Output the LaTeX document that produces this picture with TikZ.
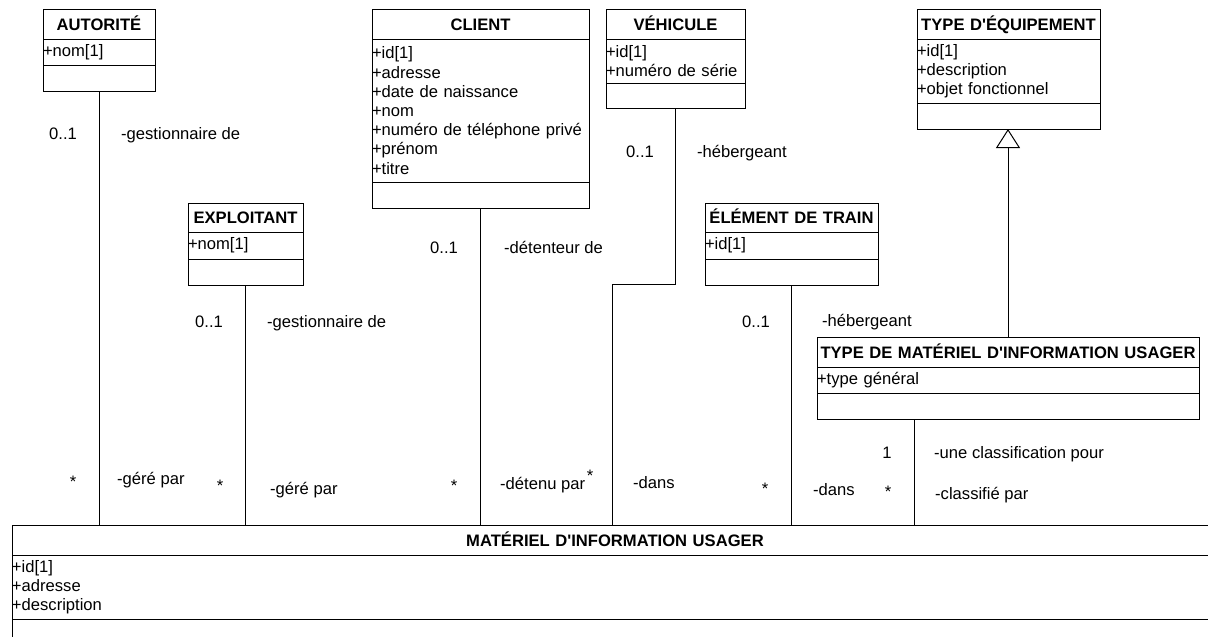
\documentclass[tikz,border=0pt]{standalone}
\usepackage{fontspec}
\setmainfont{Liberation Sans}
\usetikzlibrary{arrows.meta,calc,positioning}

\begin{document}
\begin{tikzpicture}[
  x=1pt,
  y=-1pt,
  font=\fontsize{16.6}{19.2}\selectfont,
  umlbox/.style={draw, line width=1pt, outer sep=0pt, inner xsep=0pt, inner ysep=0pt, text width=#1},
  classname/.style={umlbox=#1, align=center, font=\fontsize{16.6}{19.2}\selectfont\bfseries, minimum height=30pt, text height=12pt, text depth=0pt},
  classattr/.style={umlbox=#1, align=left},
  classop/.style={umlbox=#1, minimum height=26pt},
  link/.style={line width=1pt},
  role/.style={anchor=west, inner sep=0pt, text height=12pt, text depth=0pt},
  mult/.style={inner sep=0pt, text height=12pt, text depth=0pt}
]
  \useasboundingbox (0,0) rectangle (1208,637);
  \clip (0,0) rectangle (1208,637);

  % classes du haut
  \node[classname=112, anchor=north west] (aut) at (43,9) {AUTORITÉ};
  \node[classattr=112, below=0pt of aut, minimum height=26pt] (aut-att) {+nom[1]};
  \node[classop=112, below=0pt of aut-att] (aut-op) {};

  \node[classname=217, anchor=north west] (cli) at (372,9) {CLIENT};
  \node[classattr=217, below=0pt of cli, minimum height=143pt] (cli-att) {+id[1]\\+adresse\\+date de naissance\\+nom\\+numéro de téléphone privé\\+prénom\\+titre};
  \node[classop=217, below=0pt of cli-att] (cli-op) {};

  \node[classname=139, anchor=north west] (veh) at (606,9) {VÉHICULE};
  \node[classattr=139, below=0pt of veh, minimum height=44pt] (veh-att) {+id[1]\\+numéro de série};
  \node[classop=139, below=0pt of veh-att, minimum height=25pt] (veh-op) {};

  \node[classname=183, anchor=north west] (teq) at (917,9) {TYPE D\textquotesingle ÉQUIPEMENT};
  \node[classattr=183, below=0pt of teq, minimum height=64pt] (teq-att) {+id[1]\\+description\\+objet fonctionnel};
  \node[classop=183, below=0pt of teq-att] (teq-op) {};

  % classes du milieu
  \node[classname=115, anchor=north west, minimum height=29pt] (exp) at (188,203) {EXPLOITANT};
  \node[classattr=115, below=0pt of exp, minimum height=27pt] (exp-att) {+nom[1]};
  \node[classop=115, below=0pt of exp-att] (exp-op) {};

  \node[classname=173, anchor=north west, minimum height=29pt] (elt) at (705,203) {ÉLÉMENT DE TRAIN};
  \node[classattr=173, below=0pt of elt, minimum height=27pt] (elt-att) {+id[1]};
  \node[classop=173, below=0pt of elt-att] (elt-op) {};

  \node[classname=382, anchor=north west] (tdm) at (817,337) {TYPE DE MATÉRIEL D\textquotesingle INFORMATION USAGER};
  \node[classattr=382, below=0pt of tdm, minimum height=26pt] (tdm-att) {+type général};
  \node[classop=382, below=0pt of tdm-att] (tdm-op) {};

  % classe du bas
  \node[classname=1206, anchor=north west] (mat) at (12,525) {MATÉRIEL D\textquotesingle INFORMATION USAGER};
  \node[classattr=1206, below=0pt of mat, minimum height=64pt] (mat-att) {+id[1]\\+adresse\\+description};
  \node[classop=1206, below=0pt of mat-att] (mat-op) {};

  % associations
  \coordinate (veh-bend) at (612,284);
  \coordinate (tdm-foot) at ($(tdm-op.south west)+(97,0)$);
  \draw[link] (aut-op.south) -- (aut-op.south |- mat.north);
  \draw[link] (exp-op.south) -- (exp-op.south |- mat.north);
  \draw[link] (cli-op.south) -- (cli-op.south |- mat.north);
  \draw[link] (veh-op.south) |- (veh-bend) -- (veh-bend |- mat.north);
  \draw[link] (elt-op.south) -- (elt-op.south |- mat.north);
  \draw[link] (tdm-foot) -- (tdm-foot |- mat.north);
  \draw[link, -{Triangle[open, length=19pt, width=24pt]}] (tdm.north) -- (tdm.north |- teq-op.south);

  % roles et multiplicites
  \node[mult] (m-aut1) at (63,133) {0..1};
  \node[role] (r-aut1) at (121,133) {-gestionnaire de};
  \node[mult] (m-aut2) at (73,481) {*};
  \node[role] (r-aut2) at (117,478) {-géré par};

  \node[mult] (m-exp1) at (209,321) {0..1};
  \node[role] (r-exp1) at (267,321) {-gestionnaire de};
  \node[mult] (m-exp2) at (220,485) {*};
  \node[role] (r-exp2) at (270,488) {-géré par};

  \node[mult] (m-cli1) at (444,247) {0..1};
  \node[role] (r-cli1) at (504,247) {-détenteur de};
  \node[mult] (m-cli2) at (454,485) {*};
  \node[role] (r-cli2) at (500,483) {-détenu par};

  \node[mult] (m-veh1) at (640,151) {0..1};
  \node[role] (r-veh1) at (697,151) {-hébergeant};
  \node[mult] (m-veh2) at (590,475) {*};
  \node[role] (r-veh2) at (633,482) {-dans};

  \node[mult] (m-elt1) at (756,321) {0..1};
  \node[role] (r-elt1) at (822,320) {-hébergeant};
  \node[mult] (m-elt2) at (765,488) {*};
  \node[role] (r-elt2) at (813,489) {-dans};

  \node[mult] (m-tdm1) at (887,452) {1};
  \node[role] (r-tdm1) at (934,452) {-une classification pour};
  \node[mult] (m-tdm2) at (888,491) {*};
  \node[role] (r-tdm2) at (935,493) {-classifié par};
\end{tikzpicture}
\end{document}
